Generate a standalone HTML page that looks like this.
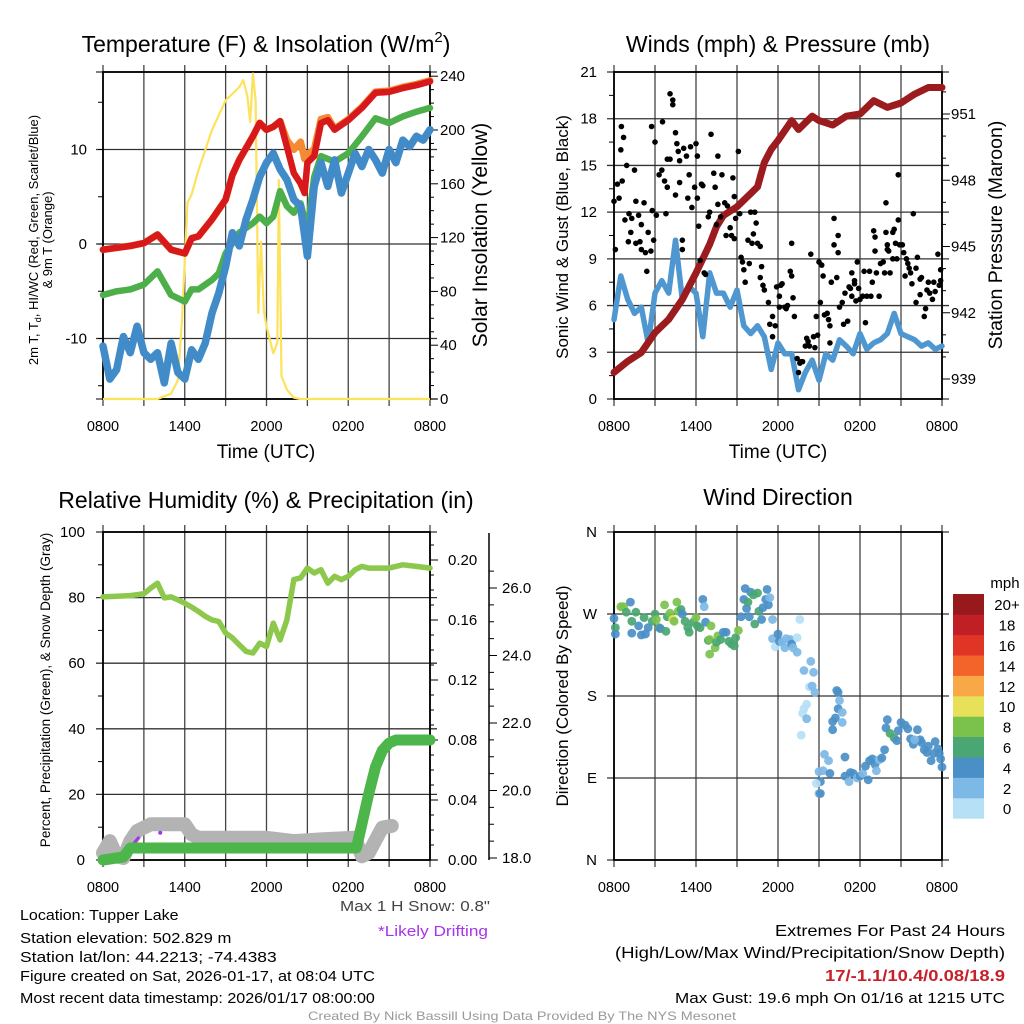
<!DOCTYPE html>
<html><head><meta charset="utf-8">
<style>
html,body{margin:0;padding:0;background:#fff;}
svg{display:block;font-family:"Liberation Sans",sans-serif;}
</style></head>
<body>
<svg id="fig" width="1024" height="1024" viewBox="0 0 1024 1024" xmlns="http://www.w3.org/2000/svg">
<rect width="1024" height="1024" fill="#fff"/>
<g id="layer"></g>
</svg>
<script>
// ---------- DATA ----------
const xTickLabels = ["0800","1400","2000","0200","0800"];
// Temperature panel
const redHours = [0,1,2,3,4,5,6,6.5,7,8,9,9.5,10,11,11.5,12,12.5,13,13.5,14,14.5,14.8,15,15.5,16,16.5,17,18,19,20,21,22,23,24];
const redTemp  = [-0.6,-0.4,-0.2,0.1,1.0,-0.6,-1.0,0.6,0.8,2.6,4.7,7.3,8.9,11.4,12.8,12.1,12.4,13.0,10.3,7.5,6.4,5.4,8.6,9.3,12.8,13.1,12.1,13.1,14.4,16.0,16.1,16.5,16.8,17.2];
const orangeTemp=[-0.6,-0.4,-0.2,0.1,1.0,-0.6,-1.0,0.6,0.8,2.6,4.7,7.3,8.9,11.4,12.8,12.1,12.4,13.0,11.0,10.0,10.8,9.0,9.5,10.0,13.2,13.4,12.2,13.2,14.5,16.1,16.2,16.6,16.9,17.3];
const greenHours=[0,1,2,3,4,5,6,6.5,7,8,8.5,9,10,11,11.5,12,12.5,13,13.5,14,14.5,15,15.5,16,17,18,19,20,21,22,23,24];
const greenTemp =[-5.4,-5.0,-4.8,-4.3,-2.9,-5.4,-6.1,-4.8,-4.8,-3.8,-3.1,-1.0,1.2,2.2,2.9,2.2,2.9,5.6,4.0,3.3,4.3,1.5,7.1,9.3,8.7,9.6,11.4,13.3,12.8,13.5,14.0,14.4];
const blueHours=[0,0.5,1,1.5,2,2.5,3,3.5,4,4.5,5,5.5,6,6.5,7,7.5,8,8.5,9,9.5,10,10.5,11,11.5,12,12.5,13,13.5,14,14.5,15,15.5,16,16.5,17,17.5,18,18.5,19,19.5,20,20.5,21,21.5,22,22.5,23,23.5,24];
const blueTemp =[-10.8,-14.3,-13.3,-9.8,-11.5,-8.7,-11.5,-12.2,-11.5,-14.7,-10.5,-13.6,-14.3,-11.2,-12.2,-10.5,-7.3,-5.2,-2.4,1.2,-0.2,2.6,4.7,7.1,8.6,9.6,7.9,6.8,4.7,4.0,-1.3,6.1,8.6,6.1,8.9,5.4,7.5,9.6,8.2,10.0,8.9,7.5,10.0,8.6,11.0,10.3,11.4,11.0,12.1];
const solarHours=[0,4,4.5,5,5.5,5.8,6,6.2,6.5,7,8,9,10,10.3,10.6,10.8,11,11.2,11.4,11.6,11.8,12,12.5,12.8,12.9,13.1,13.5,14,14.5,24];
const solarVals =[0,0,2,4,14,59,103,146,152,170,200,222,232,237,225,206,242,222,64,117,66,54,34,42,163,17,7,1,0,0];
const tempTicks=[-10,0,10];
const solarTicks=[0,40,80,120,160,200,240];
// Wind panel
const windHours=[0,0.5,1,1.5,2,2.5,3,3.5,4,4.5,5,5.5,6,6.5,7,7.5,8,8.5,9,9.5,10,10.5,11,11.5,12,12.5,13,13.5,14,14.5,15,15.5,16,16.5,17,17.5,18,18.5,19,19.5,20,20.5,21,21.5,22,22.5,23,23.5,24];
const windVals=[5.1,7.9,6.4,5.5,5.9,3.6,6.8,7.6,6.8,10.2,6.4,7.2,6.8,4.0,8.1,6.8,6.8,5.9,7.0,4.7,4.2,4.7,4.0,1.9,3.6,2.9,2.9,0.6,1.7,2.5,1.2,2.9,2.5,3.8,3.4,2.9,4.2,3.2,3.6,3.8,4.2,5.5,4.2,4.0,3.8,3.4,3.6,3.2,3.4];
const presHours=[0,1,2,3,4,5,6,7,7.5,8,9,10,10.5,11,11.5,12,13,13.5,14,14.5,15,16,17,18,19,20,21,22,23,24];
const presVals=[939.3,939.8,940.2,941.1,941.7,942.6,943.8,945.1,945.9,946.4,946.8,947.4,947.7,948.8,949.4,949.8,950.7,950.3,950.6,950.9,950.7,950.5,950.9,951.0,951.6,951.3,951.5,951.9,952.2,952.2];
const gustHours=[0,0.1,0.25,0.37,0.5,0.54,0.7,0.6,0.93,0.8,1.1,1.3,1.23,1.05,1.5,1.6,1.6,1.8,1.9,2.0,2.0,2.2,2.3,2.4,2.5,2.7,2.8,2.9,2.75,3.0,3.1,3.3,3.5,3.55,3.7,3.8,3.9,3.9,4.1,4.1,4.3,4.3,4.5,4.5,4.6,4.7,4.8,4.8,5.0,5.0,5.1,5.3,5.4,5.5,5.6,5.7,5.9,6.0,6.1,6.1,6.2,6.3,6.4,6.5,6.6,6.7,6.9,7.0,7.1,7.3,7.4,7.6,7.5,7.6,7.8,7.9,8.1,8.2,8.3,8.5,8.6,8.7,8.8,8.8,8.9,9.1,9.2,9.3,9.4,9.5,9.6,9.8,9.9,10.0,10.1,10.2,10.3,10.4,10.5,10.7,10.7,10.8,10.9,11.0,11.3,11.4,11.6,11.6,11.8,11.9,12.1,12.1,12.2,12.3,12.5,12.6,12.7,12.9,13.0,13.0,13.1,13.2,13.4,13.5,13.6,13.7,13.8,14.0,14.1,14.2,14.3,14.4,14.6,14.7,14.8,14.9,15.0,15.1,15.2,15.3,15.4,15.6,15.7,15.8,15.8,15.9,16.1,16.1,16.3,16.4,16.4,16.5,16.7,16.8,16.9,17.1,17.2,17.3,17.4,17.4,17.6,17.6,17.7,17.8,17.9,18.0,18.2,18.3,18.4,18.5,18.7,18.8,18.9,19.0,19.1,19.1,19.2,19.4,19.5,19.7,19.8,19.9,19.9,20.0,20.0,20.1,20.2,20.4,20.4,20.5,20.6,20.7,20.8,20.8,20.9,21.1,21.2,21.3,21.4,21.5,21.6,21.7,21.8,21.9,22.1,22.1,22.2,22.4,22.4,22.5,22.7,22.8,22.9,23.0,23.1,23.3,23.4,23.5,23.7,23.8,23.9,23.9];
const gustVals=[12.7,9.6,13.8,12.9,16.0,17.5,16.8,14.0,15.0,11.5,11.9,11.6,10.7,10.1,14.7,12.7,10.0,11.8,10.1,11.2,9.6,12.6,9.4,8.2,10.7,9.5,12.1,10.2,17.5,16.5,11.8,14.4,14.7,17.8,14.0,11.9,13.6,15.4,15.4,19.6,19.2,18.9,17.1,13.1,16.4,15.9,13.9,15.3,10.2,9.6,16.1,15.6,12.9,14.4,16.2,12.3,13.6,16.4,15.6,12.9,11.1,8.9,13.8,13.7,8.1,8.0,11.7,12.0,17.0,14.5,13.6,12.5,11.2,15.6,11.7,14.4,12.6,10.5,12.4,11.0,10.5,14.2,13.0,10.3,11.6,15.9,11.9,9.1,8.8,8.3,7.5,10.2,8.7,12.0,10.0,10.6,12.0,11.3,10.0,9.8,7.8,8.5,7.3,7.0,6.2,4.8,5.3,4.0,4.7,7.2,6.6,5.9,7.3,7.4,5.9,5.8,6.0,8.2,7.9,10.0,6.5,5.3,2.6,1.7,2.3,2.4,2.4,3.4,3.9,3.7,3.4,9.3,4.0,3.3,5.3,4.1,8.8,6.2,8.6,7.9,5.4,5.5,5.1,4.7,3.6,7.5,9.9,11.6,7.8,10.5,9.4,5.9,6.2,4.8,6.8,5.0,7.2,7.1,8.1,6.6,7.4,7.6,6.3,8.8,7.1,6.4,6.6,8.2,4.9,6.6,8.2,6.6,7.5,10.8,10.4,9.5,8.1,6.6,8.7,8.8,8.1,12.6,10.7,9.9,9.6,9.5,8.1,9.0,10.7,10.9,10.0,9.0,14.4,11.5,9.9,9.9,9.4,7.9,9.0,8.7,8.4,8.1,7.4,11.9,6.2,8.4,9.1,7.7,6.7,7.8,5.3,5.8,7.0,7.5,6.8,6.4,7.5,6.9,9.3,7.3,8.3,7.6];
const windTicks=[0,3,6,9,12,15,18,21];
const presTicks=[939,942,945,948,951];
// Humidity panel
const rhHours=[0,1,2,3,3.5,4,4.5,5,5.5,6,6.5,7,7.5,8,8.5,9,9.5,10,10.5,11,11.5,12,12.5,13,13.5,14,14.5,15,15.5,16,16.5,17,17.5,18,18.5,19,19.5,20,21,22,23,24];
const rhVals=[80.2,80.4,80.6,81.2,82.9,84.4,79.9,80.2,79.3,78.3,77.1,75.8,74.3,73.2,72.7,69.2,67.7,65.6,63.6,63.1,66.1,65.1,72.2,67.1,73.2,85.5,86.0,89.0,87.5,88.5,84.4,86.5,85.5,86.5,88.5,89.5,89.0,89.0,89.0,90.0,89.5,89.0];
const precipHours=[0,1.5,2,18.6,19,19.5,20,20.5,21,21.5,24];
const precipVals=[0,0.002,0.008,0.008,0.024,0.044,0.062,0.073,0.078,0.080,0.080];
const snowHours=[0,0.5,1,1.5,2,2.5,3,3.5,6,6.5,7,12,14,16,18.5,19,19.5,20.5,21.2];
const snowVals=[18.15,18.5,18.05,18.0,18.5,18.8,18.9,19.0,19.0,18.7,18.6,18.6,18.5,18.55,18.6,18.05,18.15,18.9,18.95];
const driftHours=[2.3,2.6,4.2];
const driftVals=[18.45,18.6,18.75];
const pctTicks=[0,20,40,60,80,100];
const precipTicks=[0,0.04,0.08,0.12,0.16,0.20];
const snowTicks=[18,20,22,24,26];
// Wind direction panel
const dirHours=[0,0.1,0.1,0.5,0.7,0.9,1.2,1.3,1.3,1.6,1.8,2.0,2.2,2.3,2.5,2.8,3.0,3.1,3.3,3.4,3.7,3.8,3.9,4.1,4.3,4.4,4.6,4.7,4.9,5.0,5.2,5.4,5.5,5.8,6.0,6.1,6.3,6.5,6.6,6.7,6.9,7.0,7.1,7.0,7.4,7.5,7.6,7.8,8.0,8.2,8.4,8.6,8.8,8.9,9.1,9.3,9.6,9.5,9.7,9.8,9.9,10.0,10.2,10.3,10.5,10.6,10.8,10.9,11.1,11.2,11.3,11.4,11.6,11.6,11.8,12.0,12.1,12.3,12.5,12.6,12.9,13.0,13.1,13.4,13.4,13.6,13.9,14.4,14.6,14.3,14.5,14.7,13.8,14.1,13.9,14.1,13.7,16.3,16.4,16.5,16.4,16.7,16.2,16.0,16.7,16.0,15.4,15.7,16.9,15.0,15.3,15.8,15.1,14.8,15.0,15.1,16.9,17.2,17.3,17.5,17.8,18.0,18.2,18.6,18.4,18.7,18.9,19.1,19.2,19.4,19.6,19.8,20.0,19.9,20.2,20.5,20.7,20.8,21.0,21.3,21.5,21.7,21.9,22.2,22.4,22.5,22.7,22.9,23.2,23.4,23.5,23.7,23.8,23.9,24.0,23.0,22.0];
const dirVals=[265,255,248,278,278,272,283,249,262,272,257,247,266,248,255,262,270,264,255,254,280,251,267,271,264,262,283,273,275,270,262,255,250,261,266,257,255,286,278,261,241,242,257,226,233,239,246,242,250,250,240,237,235,244,252,267,298,286,276,283,267,294,291,259,293,273,264,277,286,297,280,288,264,243,234,248,240,239,233,243,242,237,233,244,228,264,208,218,206,190,191,184,161,171,166,155,137,186,184,175,166,162,156,152,151,143,116,109,113,97,98,95,86,84,73,73,92,86,96,95,90,92,95,88,103,109,111,105,98,110,112,121,154,145,139,134,131,142,151,148,144,133,127,143,132,129,121,118,109,117,130,122,117,111,102,125,132];
const dirSpeed=[4,6,4,8,8,6,4,4,6,6,4,4,6,4,4,6,6,8,6,4,8,6,6,8,10,8,8,8,6,4,6,6,6,6,8,6,6,4,2,4,6,8,8,8,8,6,8,6,4,4,6,6,6,6,8,4,4,4,4,6,4,4,6,6,6,6,4,4,4,4,4,2,2,2,0,4,4,2,2,2,2,4,2,0,2,0,2,2,2,0,2,2,0,0,0,2,0,4,4,2,4,2,4,4,2,4,2,2,4,2,2,4,4,0,2,4,4,2,4,4,2,4,2,4,4,4,4,4,2,2,4,4,4,4,6,6,4,4,4,4,4,4,4,4,4,4,4,4,4,4,4,4,4,4,4,4,2];
const dirTickLabels=["N","E","S","W","N"];
const cbarLabels=["0","2","4","6","8","10","12","14","16","18","20+"];
const cbarColors=["#b6e0f6","#7db9e6","#4a8fc6","#4aa672","#7bc24c","#e6e159","#f9a848","#f26429","#e03426","#c11f26","#98191b"];

// ---------- DRAWING ----------
const NS="http://www.w3.org/2000/svg";
const layer=document.getElementById('layer');
function mk(tag,attrs,parent){const e=document.createElementNS(NS,tag);for(const k in attrs)e.setAttribute(k,attrs[k]);(parent||layer).appendChild(e);return e;}
function txt(s,x,y,size,anchor,parent,extra){const t=mk('text',Object.assign({x:x,y:y,'font-size':size,'text-anchor':anchor||'middle',fill:'#000'},extra||{}),parent);t.textContent=s;return t;}
function lin(d0,d1,r0,r1){return v=>r0+(v-d0)*(r1-r0)/(d1-d0);}
function pathD(xs,ys,fx,fy){return xs.map((h,i)=>(i?'L':'M')+fx(h).toFixed(1)+' '+fy(ys[i]).toFixed(1)).join(' ');}

function panelFrame(g,L,R,T,B,hLines,name){
  for(let h=0;h<=24;h+=3){const x=lin(0,24,L,R)(h);const l=mk('line',{x1:x,x2:x,y1:T-7,y2:B+7,stroke:'#444','stroke-width':1.3},g);
  
  }
  hLines.forEach(y=>{const l=mk('line',{x1:L-7,x2:R+7,y1:y,y2:y,stroke:'#333','stroke-width':1.3},g);
  
  });
  const f=mk('rect',{x:L,y:T,width:R-L,height:B-T,fill:'none',stroke:'#000','stroke-width':1.8},g);
  
  
  const fx=lin(0,24,L,R);
  xTickLabels.forEach((s,i)=>{const t=txt(s,fx(i*6),B+32,14.5,'middle',g);
  
  });
}

// ===== Panel 1: Temperature =====
(function(){
  const g=mk('g',{});
  
  
  const L=103,R=430,T=72,B=399;
  const fx=lin(0,24,L,R), fy=lin(0,10,244,149.5), fs=lin(0,200,399,130);
  panelFrame(g,L,R,T,B,tempTicks.map(fy).concat([T,B]),'temperature');
  tempTicks.forEach(v=>{const t=txt(String(v),87,fy(v)+5,15,'end',g);
  
  });
  for(let v=-15;v<=18;v++){if(v%5)continue;const y=fy(v);if(y<T||y>B)continue;mk('line',{x1:L-5,x2:L,y1:y,y2:y,stroke:'#000'},g);}
  solarTicks.forEach(v=>{const y=fs(v);mk('line',{x1:R,x2:R+8,y1:y,y2:y,stroke:'#000'},g);const t=txt(String(v),440,y+5,15,'start',g);
  
  });
  for(let v=10;v<240;v+=10){if(v%40)mk('line',{x1:R,x2:R+4,y1:fs(v),y2:fs(v),stroke:'#000'},g);}
  const s1=mk('path',{d:pathD(solarHours,solarVals,fx,fs),fill:'none',stroke:'#fde25c','stroke-width':2.2,'stroke-linejoin':'round'},g);
  
  
  const gr=mk('path',{d:pathD(greenHours,greenTemp,fx,fy),fill:'none',stroke:'#4daf4a','stroke-width':6.5,'stroke-linejoin':'round','stroke-linecap':'round'},g);
  
  
  const bl=mk('path',{d:pathD(blueHours,blueTemp,fx,fy),fill:'none',stroke:'#418bc9','stroke-width':7.5,'stroke-linejoin':'round','stroke-linecap':'round'},g);
  
  
  const or=mk('path',{d:pathD(redHours,orangeTemp,fx,fy),fill:'none',stroke:'#f68a32','stroke-width':7,'stroke-linejoin':'round','stroke-linecap':'round'},g);
  
  
  const rd=mk('path',{d:pathD(redHours,redTemp,fx,fy),fill:'none',stroke:'#d7191c','stroke-width':6.5,'stroke-linejoin':'round','stroke-linecap':'round'},g);
  
  
  const t1=mk('text',{x:266,y:52,'font-size':23,'text-anchor':'middle'},g);t1.innerHTML='Temperature (F) &amp; Insolation (W/m<tspan font-size="15" dy="-10">2</tspan><tspan dy="10">)</tspan>';
  
  
  const xl=txt('Time (UTC)',266,458,19,'middle',g);
  
  
  const yl=mk('text',{x:0,y:0,'font-size':13,'text-anchor':'middle',transform:'translate(38,240) rotate(-90)'},g);
  yl.innerHTML='2m T, T<tspan font-size="9" dy="3">d</tspan><tspan dy="-3">, HI/WC (Red, Green, Scarlet/Blue)</tspan>';
  
  
  const yl2=txt('& 9m T (Orange)',0,0,13,'middle',g,{transform:'translate(52,240) rotate(-90)'});
  
  
  const yr=txt('Solar Insolation (Yellow)',0,0,21,'middle',g,{transform:'translate(487,235) rotate(-90)'});
  
  
})();

// ===== Panel 2: Winds =====
(function(){
  const g=mk('g',{});
  
  
  const L=614,R=942,T=72,B=399;
  const fx=lin(0,24,L,R), fy=lin(0,21,B,T), fp=lin(939,951,379,114);
  panelFrame(g,L,R,T,B,windTicks.map(fy),'wind');
  windTicks.forEach(v=>{const t=txt(String(v),597,fy(v)+5,15,'end',g);
  
  });
  for(let v=1.5;v<21;v+=3)mk('line',{x1:L-5,x2:L,y1:fy(v),y2:fy(v),stroke:'#000'},g);
  presTicks.forEach(v=>{const y=fp(v);mk('line',{x1:R,x2:R+8,y1:y,y2:y,stroke:'#000'},g);const t=txt(String(v),951,y+5,15,'start',g);
  
  });
  for(let v=938;v<953;v++){if((v-939)%3){const y=fp(v);if(y>T&&y<B)mk('line',{x1:R,x2:R+4,y1:y,y2:y,stroke:'#000'},g);}}
  const w=mk('path',{d:pathD(windHours,windVals,fx,fy),fill:'none',stroke:'#4f97d1','stroke-width':5.5,'stroke-linejoin':'round','stroke-linecap':'round'},g);
  
  
  const p=mk('path',{d:pathD(presHours,presVals,fx,fp),fill:'none',stroke:'#9b1b1e','stroke-width':7,'stroke-linejoin':'round','stroke-linecap':'round'},g);
  
  
  gustHours.forEach((h,i)=>{const c=mk('circle',{cx:fx(h),cy:fy(gustVals[i]),r:2.8,fill:'#000'},g);
  
  });
  const t=txt('Winds (mph) & Pressure (mb)',778,52,23,'middle',g);
  
  
  const xl=txt('Time (UTC)',778,458,19,'middle',g);
  
  
  const yl=txt('Sonic Wind & Gust (Blue, Black)',0,0,17,'middle',g,{transform:'translate(568,237) rotate(-90)'});
  
  
  const yr=txt('Station Pressure (Maroon)',0,0,19.5,'middle',g,{transform:'translate(1002,235) rotate(-90)'});
  
  
})();

// ===== Panel 3: Humidity =====
(function(){
  const g=mk('g',{});
  
  
  const L=103,R=430,T=532,B=860;
  const fx=lin(0,24,L,R), fy=lin(0,100,B,T), fp=lin(0,0.08,860,740), fs=lin(18,26,858,588);
  panelFrame(g,L,R,T,B,pctTicks.map(fy),'humidity');
  pctTicks.forEach(v=>{const t=txt(String(v),85,fy(v)+5,15,'end',g);
  
  });
  for(let v=10;v<100;v+=20)mk('line',{x1:L-5,x2:L,y1:fy(v),y2:fy(v),stroke:'#000'},g);
  precipTicks.forEach(v=>{const y=fp(v);mk('line',{x1:R,x2:R+8,y1:y,y2:y,stroke:'#000'},g);const t=txt(v.toFixed(2),448,y+5,15,'start',g);
  
  });
  for(let v=0.01;v<0.215;v+=0.01){mk('line',{x1:R,x2:R+4,y1:fp(v),y2:fp(v),stroke:'#000'},g);}
  mk('line',{x1:489,x2:489,y1:533,y2:860,stroke:'#000','stroke-width':1.5},g);
  snowTicks.forEach(v=>{const y=fs(v);mk('line',{x1:489,x2:497,y1:y,y2:y,stroke:'#000'},g);const t=txt(v.toFixed(1),502,y+5,15,'start',g);
  
  });
  for(let v=18.5;v<27;v+=0.5){if(v%2)mk('line',{x1:489,x2:494,y1:fs(v),y2:fs(v),stroke:'#000'},g);}
  const s=mk('path',{d:pathD(snowHours,snowVals,fx,fs),fill:'none',stroke:'#b3b3b3','stroke-width':14,'stroke-linejoin':'round','stroke-linecap':'round'},g);
  
  
  const d=mk('path',{d:pathD(driftHours.slice(0,2),driftVals.slice(0,2),fx,fs),fill:'none',stroke:'#a634e8','stroke-width':3,'stroke-linecap':'round'},g);
  
  
  const d2=mk('circle',{cx:fx(driftHours[2]),cy:fs(driftVals[2]),r:2,fill:'#a634e8'},g);
  
  
  const p=mk('path',{d:pathD(precipHours,precipVals,fx,fp),fill:'none',stroke:'#4cb64a','stroke-width':11,'stroke-linejoin':'round','stroke-linecap':'round'},g);
  
  
  const r=mk('path',{d:pathD(rhHours,rhVals,fx,fy),fill:'none',stroke:'#8cc84b','stroke-width':5.5,'stroke-linejoin':'round','stroke-linecap':'round'},g);
  
  
  const t=txt('Relative Humidity (%) & Precipitation (in)',266,508,23,'middle',g);
  
  
  const yl=txt('Percent, Precipitation (Green), & Snow Depth (Gray)',0,0,13.5,'middle',g,{transform:'translate(50,690) rotate(-90)'});
  
  
})();

// ===== Panel 4: Wind direction =====
(function(){
  const g=mk('g',{});
  
  
  const L=614,R=942,T=532,B=860;
  const fx=lin(0,24,L,R), fy=lin(0,360,B,T);
  panelFrame(g,L,R,T,B,[0,90,180,270,360].map(fy),'wind-direction');
  dirTickLabels.forEach((s,i)=>{const t=txt(s,597,fy(i*90)+5,15,'end',g);
  
  });
  dirHours.forEach((h,i)=>{const c=mk('circle',{cx:fx(h),cy:fy(dirVals[i]),r:4.4,fill:cbarColors[Math.min(10,Math.round(dirSpeed[i]/2))],'fill-opacity':0.92},g);
  
  });
  const t=txt('Wind Direction',778,505,23,'middle',g);
  
  
  const yl=txt('Direction (Colored By Speed)',0,0,17,'middle',g,{transform:'translate(568,696) rotate(-90)'});
  
  
  const cb=mk('g',{},g);
  
  
  const top=594, h=20.4;
  cbarColors.forEach((c,i)=>{const y=top+(10-i)*h;const r=mk('rect',{x:953,y:y,width:31,height:h+0.3,fill:c},cb);
  
  
  const l=txt(cbarLabels[i],1007,y+h/2+6,15,'middle',cb);
  
  });
  const u=txt('mph',1005,588,15,'middle',cb);
  
  
})();

// ===== Footer text =====
(function(){
  const g=mk('g',{});
  
  
  const lines=[["Location: Tupper Lake",920],["Station elevation: 502.829 m",943],["Station lat/lon: 44.2213; -74.4383",962],["Figure created on Sat, 2026-01-17, at 08:04 UTC",981],["Most recent data timestamp: 2026/01/17 08:00:00",1003]];
  lines.forEach(l=>{const t=txt(l[0],20,l[1],15,'start',g,{textLength:String(l[0].length*7.55),lengthAdjust:'spacingAndGlyphs'});
  
  });
  const fixLen=(t,w)=>{t.setAttribute('textLength',w);t.setAttribute('lengthAdjust','spacingAndGlyphs');};
  const a=txt('Max 1 H Snow: 0.8"',415,911,15,'middle',g,{fill:'#444'});fixLen(a,150);
  
  
  const b=txt('*Likely Drifting',433,936,15,'middle',g,{fill:'#a634e8'});fixLen(b,110);
  
  
  const r1=txt('Extremes For Past 24 Hours',1005,936,16,'end',g);fixLen(r1,230);
  
  
  const r2=txt('(High/Low/Max Wind/Precipitation/Snow Depth)',1005,958,16,'end',g);fixLen(r2,390);
  
  
  const r3=txt('17/-1.1/10.4/0.08/18.9',1005,981,16,'end',g,{fill:'#c8202a','font-weight':'bold'});fixLen(r3,180);
  
  
  const r4=txt('Max Gust: 19.6 mph On 01/16 at 1215 UTC',1005,1003,15,'end',g);fixLen(r4,330);
  
  
  const c=txt('Created By Nick Bassill Using Data Provided By The NYS Mesonet',522,1020,12,'middle',g,{fill:'#999'});fixLen(c,428);
  
  
})();
</script>
</body></html>
